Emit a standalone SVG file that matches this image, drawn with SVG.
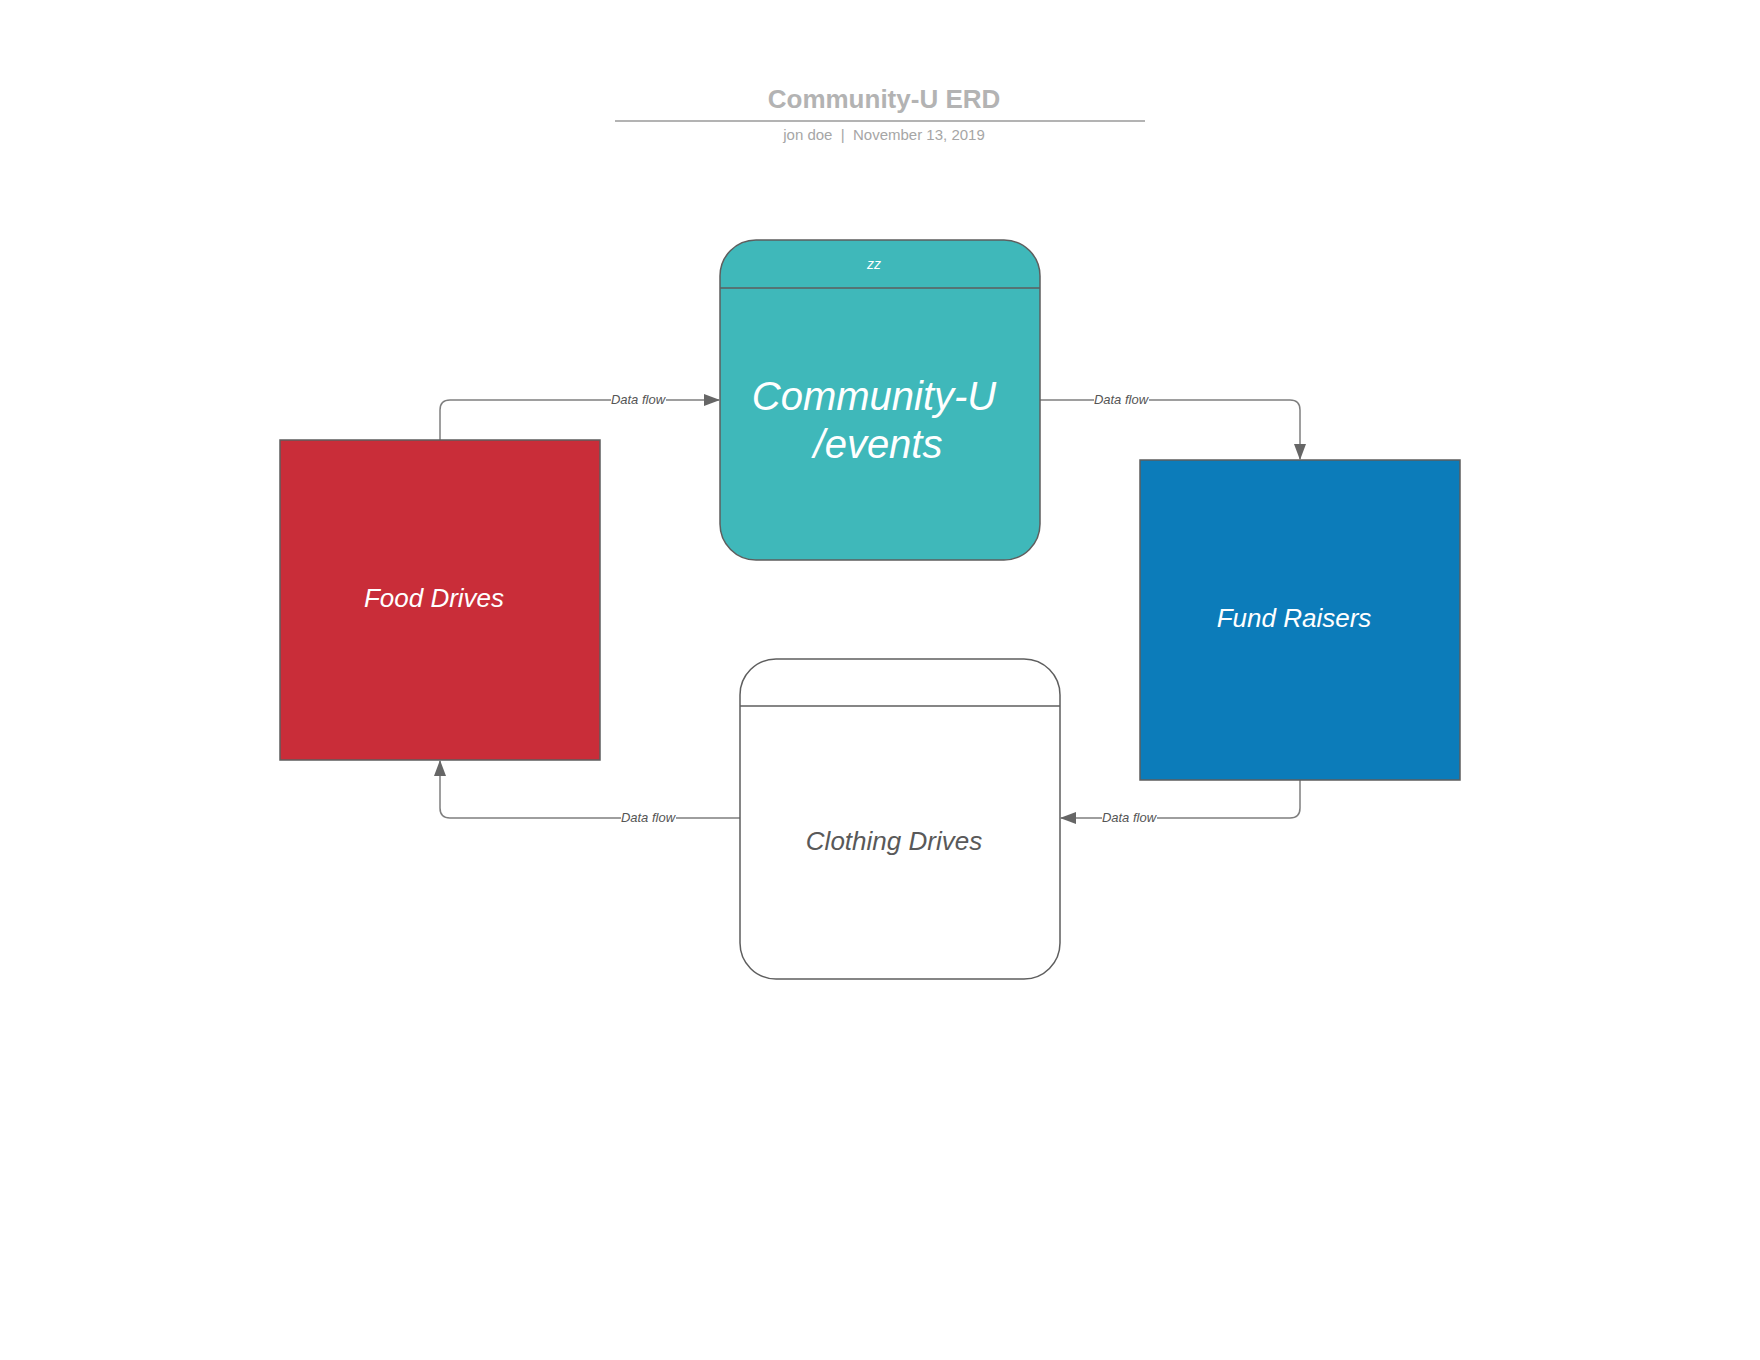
<svg xmlns="http://www.w3.org/2000/svg" width="1760" height="1360" viewBox="0 0 1760 1360">
<defs>
<marker id="arr" markerWidth="16" markerHeight="12" refX="15" refY="6" orient="auto" markerUnits="userSpaceOnUse">
<path d="M0,0 L16,6 L0,12 Z" fill="#666666"/>
</marker>
<style>
.title{font-family:"Liberation Sans",Arial,sans-serif;font-weight:bold;font-size:26px;fill:#b3b3b3;text-anchor:middle}
.sub{font-family:"Liberation Sans",Arial,sans-serif;font-size:15px;fill:#a6a6a6;text-anchor:middle}
.conn{fill:none;stroke:#7f7f7f;stroke-width:1.5}
.lbl{font-family:"Liberation Sans",Arial,sans-serif;font-style:italic;font-size:13px;fill:#555555;text-anchor:middle}
.big{font-family:"Liberation Sans",Arial,sans-serif;font-style:italic;font-size:26px;text-anchor:middle}
.node{stroke:#5e5e5e;stroke-width:1.5}
</style>
</defs>
<rect width="1760" height="1360" fill="#ffffff"/>
<g id="title">
<text class="title" x="884" y="108">Community-U ERD</text>
<line x1="615" y1="121" x2="1145" y2="121" stroke="#b3b3b3" stroke-width="2"/>
<text class="sub" x="884" y="140">jon doe&#160; |&#160; November 13, 2019</text>
</g>
<g id="connectors">
<path class="conn" d="M440,440 L440,410 Q440,400 450,400 L719,400" marker-end="url(#arr)"/>
<rect x="611" y="392" width="55" height="14" fill="#ffffff"/>
<text class="lbl" x="638" y="404">Data flow</text>
<path class="conn" d="M1040,400 L1290,400 Q1300,400 1300,410 L1300,459" marker-end="url(#arr)"/>
<rect x="1094" y="392" width="55" height="14" fill="#ffffff"/>
<text class="lbl" x="1121" y="404">Data flow</text>
<path class="conn" d="M1300,780 L1300,808 Q1300,818 1290,818 L1061,818" marker-end="url(#arr)"/>
<rect x="1102" y="810" width="55" height="14" fill="#ffffff"/>
<text class="lbl" x="1129" y="822">Data flow</text>
<path class="conn" d="M740,818 L450,818 Q440,818 440,808 L440,761" marker-end="url(#arr)"/>
<rect x="621" y="810" width="55" height="14" fill="#ffffff"/>
<text class="lbl" x="648" y="822">Data flow</text>
</g>
<g id="community-u-events">
<rect class="node" x="720" y="240" width="320" height="320" rx="36" ry="36" fill="#3fb8ba"/>
<line x1="720" y1="288" x2="1040" y2="288" stroke="#5e5e5e" stroke-width="1.5"/>
<text x="874" y="269" font-family="Liberation Sans, Arial, sans-serif" font-style="italic" font-size="14" fill="#ffffff" text-anchor="middle">zz</text>
<text class="big" x="874" y="410" style="font-size:40px" fill="#ffffff">Community-U</text>
<text class="big" x="878" y="458" style="font-size:40px" fill="#ffffff">/events</text>
</g>
<g id="food-drives">
<rect class="node" x="280" y="440" width="320" height="320" fill="#c92d39"/>
<text class="big" x="434" y="607" fill="#ffffff">Food Drives</text>
</g>
<g id="fund-raisers">
<rect class="node" x="1140" y="460" width="320" height="320" fill="#0c7cba"/>
<text class="big" x="1294" y="627" fill="#ffffff">Fund Raisers</text>
</g>
<g id="clothing-drives">
<rect class="node" x="740" y="659" width="320" height="320" rx="36" ry="36" fill="#ffffff" stroke="#7f7f7f"/>
<line x1="740" y1="706" x2="1060" y2="706" stroke="#5e5e5e" stroke-width="1.5"/>
<text class="big" x="894" y="850" fill="#595959">Clothing Drives</text>
</g>
</svg>
